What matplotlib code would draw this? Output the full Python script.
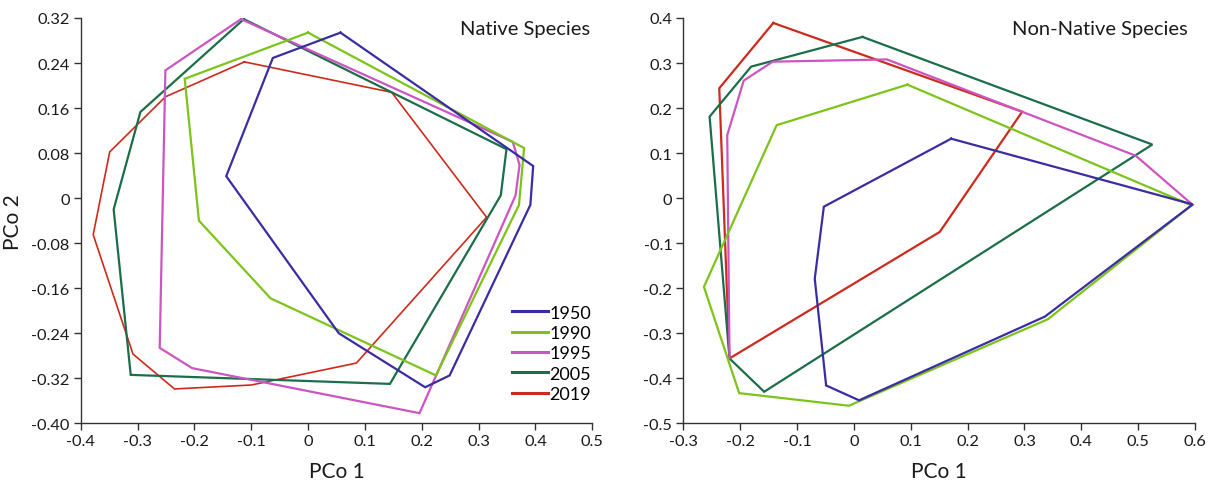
import matplotlib
matplotlib.use("Agg")
import matplotlib.pyplot as plt
from matplotlib.lines import Line2D

plt.rcParams['font.family'] = ['Lato', 'DejaVu Sans']

years = ["1950", "1990", "1995", "2005", "2019"]
colors = ["#3a2ca3", "#7cc41a", "#cc55c2", "#1b6e48", "#cc2b1c"]

# Native species hull vertices (PCo 1, PCo 2)
nat_1950_x = [0.057, 0.396, 0.391, 0.249, 0.206, 0.054, -0.144, -0.062]
nat_1950_y = [0.294, 0.057, -0.012, -0.315, -0.336, -0.240, 0.039, 0.249]
nat_1990_x = [0.000, 0.380, 0.371, 0.225, -0.066, -0.192, -0.217]
nat_1990_y = [0.294, 0.089, -0.012, -0.315, -0.178, -0.040, 0.212]
nat_1995_x = [-0.118, 0.360, 0.372, 0.365, 0.196, -0.204, -0.261, -0.251]
nat_1995_y = [0.318, 0.100, 0.059, 0.005, -0.382, -0.302, -0.266, 0.227]
nat_2005_x = [-0.113, 0.349, 0.339, 0.144, -0.312, -0.342, -0.295]
nat_2005_y = [0.318, 0.087, 0.005, -0.330, -0.314, -0.020, 0.153]
nat_2019_x = [-0.112, 0.147, 0.314, 0.085, -0.100, -0.235, -0.308, -0.378, -0.349, -0.251]
nat_2019_y = [0.242, 0.188, -0.034, -0.293, -0.332, -0.339, -0.277, -0.065, 0.082, 0.180]

# Non-native species hull vertices (PCo 1, PCo 2)
non_1950_x = [0.171, 0.596, 0.336, 0.009, -0.049, -0.069, -0.053]
non_1950_y = [0.132, -0.014, -0.263, -0.449, -0.416, -0.179, -0.019]
non_1990_x = [0.094, 0.594, 0.341, -0.009, -0.202, -0.264, -0.136]
non_1990_y = [0.252, -0.016, -0.269, -0.461, -0.433, -0.197, 0.162]
non_1995_x = [-0.219, -0.223, -0.194, -0.143, 0.058, 0.496, 0.596]
non_1995_y = [-0.356, 0.140, 0.261, 0.303, 0.308, 0.094, -0.015]
non_2005_x = [0.015, 0.525, -0.158, -0.219, -0.254, -0.181]
non_2005_y = [0.358, 0.119, -0.430, -0.356, 0.181, 0.292]
non_2019_x = [-0.142, 0.296, 0.151, -0.219, -0.237]
non_2019_y = [0.389, 0.192, -0.075, -0.356, 0.244]

nat_series = [(nat_1950_x, nat_1950_y), (nat_1990_x, nat_1990_y), (nat_1995_x, nat_1995_y),
              (nat_2005_x, nat_2005_y), (nat_2019_x, nat_2019_y)]
non_series = [(non_1950_x, non_1950_y), (non_1990_x, non_1990_y), (non_1995_x, non_1995_y),
              (non_2005_x, non_2005_y), (non_2019_x, non_2019_y)]
non_closed = [True, True, False, True, True]

nat_xticks = [-0.4, -0.3, -0.2, -0.1, 0, 0.1, 0.2, 0.3, 0.4, 0.5]
nat_xlabels = ["-0.4", "-0.3", "-0.2", "-0.1", "0", "0.1", "0.2", "0.3", "0.4", "0.5"]
nat_yticks = [0.32, 0.24, 0.16, 0.08, 0, -0.08, -0.16, -0.24, -0.32, -0.40]
nat_ylabels = ["0.32", "0.24", "0.16", "0.08", "0", "-0.08", "-0.16", "-0.24", "-0.32", "-0.40"]
non_xticks = [-0.3, -0.2, -0.1, 0, 0.1, 0.2, 0.3, 0.4, 0.5, 0.6]
non_xlabels = ["-0.3", "-0.2", "-0.1", "0", "0.1", "0.2", "0.3", "0.4", "0.5", "0.6"]
non_yticks = [0.4, 0.3, 0.2, 0.1, 0, -0.1, -0.2, -0.3, -0.4, -0.5]
non_ylabels = ["0.4", "0.3", "0.2", "0.1", "0", "-0.1", "-0.2", "-0.3", "-0.4", "-0.5"]

fig = plt.figure(figsize=(12.17, 4.81), dpi=100)
ax1 = fig.add_axes([0.0663, 0.1179, 0.4204, 0.8426])
ax2 = fig.add_axes([0.5616, 0.1179, 0.4203, 0.8426])


def close(xs, ys):
    return list(xs) + [xs[0]], list(ys) + [ys[0]]


def style(ax, xlim, ylim, xt, xl, yt, yl):
    ax.set_xlim(*xlim)
    ax.set_ylim(*ylim)
    for s in ["top", "right"]:
        ax.spines[s].set_visible(False)
    for s in ["left", "bottom"]:
        ax.spines[s].set_color("#333333")
        ax.spines[s].set_linewidth(1.0)
    ax.set_xticks(xt)
    ax.set_xticklabels(xl)
    ax.set_yticks(yt)
    ax.set_yticklabels(yl)
    ax.tick_params(direction="out", length=5, width=1.0, color="#333333",
                   labelsize=11.8, labelcolor="#1a1a1a", pad=3)
    ax.set_xlabel("PCo 1", fontsize=15, labelpad=9, color="#1a1a1a")


# Left panel
for i in range(len(years) - 1, -1, -1):
    xs, ys = close(*nat_series[i])
    lw = 1.2 if years[i] == "2019" else 1.6
    ax1.plot(xs, ys, color=colors[i], lw=lw, solid_joinstyle="miter")
style(ax1, (-0.4, 0.5), (-0.40, 0.32), nat_xticks, nat_xlabels, nat_yticks, nat_ylabels)
ax1.set_ylabel("PCo 2", fontsize=15, labelpad=6, color="#1a1a1a")
ax1.text(0.995, 0.995, "Native Species", transform=ax1.transAxes, ha="right", va="top",
         fontsize=14.5, color="#1a1a1a")

handles = [Line2D([0], [0], color=colors[i], lw=2.2) for i in range(len(years))]
ax1.legend(handles, years, loc="lower right", bbox_to_anchor=(1.012, 0.035), frameon=False,
           fontsize=13, handlelength=2.0, handletextpad=0.05, labelspacing=0.24,
           borderaxespad=0.0)

# Right panel
for i in range(len(years) - 1, -1, -1):
    if non_closed[i]:
        xs, ys = close(*non_series[i])
    else:
        xs, ys = non_series[i]
    ax2.plot(xs, ys, color=colors[i], lw=1.6, solid_joinstyle="miter")
style(ax2, (-0.3, 0.6), (-0.5, 0.4), non_xticks, non_xlabels, non_yticks, non_ylabels)
ax2.text(0.985, 0.995, "Non-Native Species", transform=ax2.transAxes, ha="right", va="top",
         fontsize=14.5, color="#1a1a1a")

fig.savefig("out.png", dpi=100)
